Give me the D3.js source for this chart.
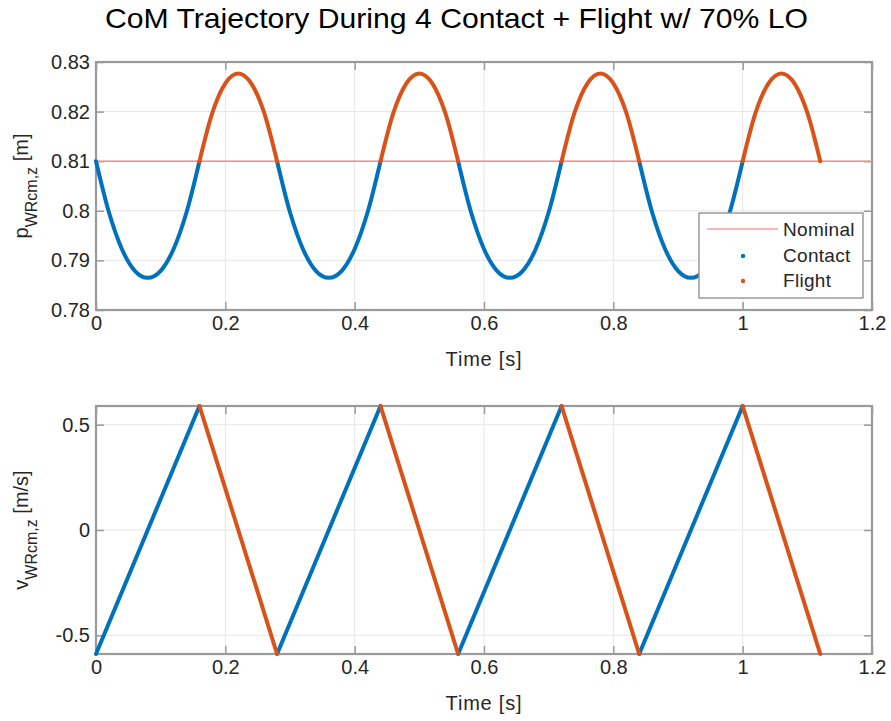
<!DOCTYPE html>
<html>
<head>
<meta charset="utf-8">
<script src="https://cdn.jsdelivr.net/npm/d3@7"></script>
<style>
  html, body { margin: 0; padding: 0; background: #fff; }
  svg { display: block; }
  text { font-family: "Liberation Sans", Arial, Helvetica, sans-serif; fill: #262626; }
</style>
</head>
<body>
<svg id="chart" width="891" height="721"></svg>
<script>
// Sample times [s] (every 20 ms)
const timeS = [
  0.00, 0.02, 0.04, 0.06, 0.08, 0.10, 0.12, 0.14, 0.16, 0.18, 0.20, 0.22, 0.24, 0.26,
  0.28, 0.30, 0.32, 0.34, 0.36, 0.38, 0.40, 0.42, 0.44, 0.46, 0.48, 0.50, 0.52, 0.54,
  0.56, 0.58, 0.60, 0.62, 0.64, 0.66, 0.68, 0.70, 0.72, 0.74, 0.76, 0.78, 0.80, 0.82,
  0.84, 0.86, 0.88, 0.90, 0.92, 0.94, 0.96, 0.98, 1.00, 1.02, 1.04, 1.06, 1.08, 1.10,
  1.12
];
// CoM height p_WRcm,z [m]
const comHeight = [
  0.8100, 0.7997, 0.7923, 0.7879, 0.7865, 0.7879, 0.7923, 0.7997, 0.8100, 0.8198, 0.8257, 0.8277, 0.8257, 0.8198,
  0.8100, 0.7997, 0.7923, 0.7879, 0.7865, 0.7879, 0.7923, 0.7997, 0.8100, 0.8198, 0.8257, 0.8277, 0.8257, 0.8198,
  0.8100, 0.7997, 0.7923, 0.7879, 0.7865, 0.7879, 0.7923, 0.7997, 0.8100, 0.8198, 0.8257, 0.8277, 0.8257, 0.8198,
  0.8100, 0.7997, 0.7923, 0.7879, 0.7865, 0.7879, 0.7923, 0.7997, 0.8100, 0.8198, 0.8257, 0.8277, 0.8257, 0.8198,
  0.8100
];
// CoM vertical velocity v_WRcm,z [m/s]
const comVel = [
  -0.5886, -0.4415, -0.2943, -0.1472, 0.0000, 0.1472, 0.2943, 0.4415, 0.5886, 0.3924, 0.1962, 0.0000, -0.1962, -0.3924,
  -0.5886, -0.4415, -0.2943, -0.1472, 0.0000, 0.1472, 0.2943, 0.4415, 0.5886, 0.3924, 0.1962, 0.0000, -0.1962, -0.3924,
  -0.5886, -0.4415, -0.2943, -0.1472, 0.0000, 0.1472, 0.2943, 0.4415, 0.5886, 0.3924, 0.1962, 0.0000, -0.1962, -0.3924,
  -0.5886, -0.4415, -0.2943, -0.1472, 0.0000, 0.1472, 0.2943, 0.4415, 0.5886, 0.3924, 0.1962, 0.0000, -0.1962, -0.3924,
  -0.5886
];
// Phase windows [s]
const contactStart = [0.00, 0.28, 0.56, 0.84];
const contactEnd   = [0.16, 0.44, 0.72, 1.00];
const flightStart  = [0.16, 0.44, 0.72, 1.00];
const flightEnd    = [0.28, 0.56, 0.84, 1.12];
const nominalHeight = 0.81;

// Axis ticks
const timeTicks = [0, 0.2, 0.4, 0.6, 0.8, 1, 1.2];
const heightTicks = [0.78, 0.79, 0.80, 0.81, 0.82, 0.83];
const velTicks = [-0.5, 0, 0.5];
const timeDomain = [0, 1.2];
const heightDomain = [0.78, 0.83];
const velDomain = [-0.5886, 0.5886];

const titleText = "CoM Trajectory During 4 Contact + Flight w/ 70% LO";
const legendLabels = ["Nominal", "Contact", "Flight"];

const COLORS = { contact: "#0072BD", flight: "#D95319", nominal: "#f78a8a", box: "#9a9a9a", grid: "#e6e6e6" };

const svg = d3.select("#chart");
const left = 96, right = 872;

const fmt = d => String(+(+d).toFixed(3));

// condensed title
svg.append("text")
  .attr("x", (105 + 808) / 2).attr("y", 28)
  .attr("text-anchor", "middle")
  .style("font-family", '"Liberation Sans Narrow", "Liberation Sans", Arial, sans-serif')
  .style("font-size", "28px")
  .attr("textLength", 703).attr("lengthAdjust", "spacingAndGlyphs")
  .style("fill", "#000")
  .text(titleText);

function segments(start, end, values) {
  return start.map((s, k) => timeS
    .map((t, i) => ({ t, v: values[i] }))
    .filter(d => d.t >= s - 1e-9 && d.t <= end[k] + 1e-9));
}

function panel(cfg) {
  const x = d3.scaleLinear().domain(timeDomain).range([left, right]);
  const y = d3.scaleLinear().domain(cfg.domain).range([cfg.bottom, cfg.top]);
  const g = svg.append("g");

  // grid
  g.selectAll(".gx").data(timeTicks).join("line")
    .attr("x1", d => x(d)).attr("x2", d => x(d)).attr("y1", cfg.top).attr("y2", cfg.bottom)
    .attr("stroke", COLORS.grid).attr("stroke-width", 1);
  g.selectAll(".gy").data(cfg.ticks).join("line")
    .attr("x1", left).attr("x2", right).attr("y1", d => y(d)).attr("y2", d => y(d))
    .attr("stroke", COLORS.grid).attr("stroke-width", 1);

  // axes with inward ticks, mirrored on top/right
  const styleAxis = sel => {
    sel.select(".domain").remove();
    sel.selectAll(".tick line").attr("stroke", COLORS.box).attr("stroke-width", 1.5);
    sel.selectAll(".tick text").style("font-size", "20px").style("font-family", '"Liberation Sans", Arial, sans-serif').attr("fill", "#2b2b2b");
  };
  g.append("g").attr("transform", `translate(0,${cfg.bottom})`)
    .call(d3.axisBottom(x).tickValues(timeTicks).tickFormat(fmt).tickSize(-8).tickPadding(6))
    .call(styleAxis);
  g.append("g").attr("transform", `translate(0,${cfg.top})`)
    .call(d3.axisTop(x).tickValues(timeTicks).tickFormat("").tickSize(-8))
    .call(styleAxis);
  g.append("g").attr("transform", `translate(${left},0)`)
    .call(d3.axisLeft(y).tickValues(cfg.ticks).tickFormat(fmt).tickSize(-8).tickPadding(6))
    .call(styleAxis);
  g.append("g").attr("transform", `translate(${right},0)`)
    .call(d3.axisRight(y).tickValues(cfg.ticks).tickFormat("").tickSize(-8))
    .call(styleAxis);

  g.append("rect").attr("x", left).attr("y", cfg.top)
    .attr("width", right - left).attr("height", cfg.bottom - cfg.top)
    .attr("fill", "none").attr("stroke", COLORS.box).attr("stroke-width", 2.2);

  if (cfg.nominal !== undefined) {
    g.append("line").attr("x1", left).attr("x2", right)
      .attr("y1", y(cfg.nominal)).attr("y2", y(cfg.nominal))
      .attr("stroke", COLORS.nominal).attr("stroke-width", 1.4);
  }

  const line = d3.line().x(d => x(d.t)).y(d => y(d.v)).curve(cfg.curve);
  const draw = (segs, color) => g.append("g").selectAll("path").data(segs).join("path")
    .attr("d", line).attr("fill", "none").attr("stroke", color)
    .attr("stroke-width", 4).attr("stroke-linecap", "round").attr("stroke-linejoin", "round");
  draw(segments(contactStart, contactEnd, cfg.values), COLORS.contact);
  draw(segments(flightStart, flightEnd, cfg.values), COLORS.flight);

  // axis labels
  g.append("text").attr("x", (left + right) / 2).attr("y", cfg.bottom + 56)
    .attr("text-anchor", "middle").style("font-size", "20px").style("letter-spacing", "0.8px")
    .text("Time [s]");

  const yl = g.append("text")
    .attr("transform", `translate(28,${(cfg.top + cfg.bottom) / 2}) rotate(-90)`)
    .attr("text-anchor", "middle").style("font-size", "20px");
  yl.append("tspan").text(cfg.sym);
  yl.append("tspan").attr("dy", 9).style("font-size", "16px").text("WRcm,z");
  yl.append("tspan").attr("dy", -9).text(" " + cfg.unit);

  return { x, y, g };
}

panel({ top: 62, bottom: 310, domain: heightDomain, ticks: heightTicks, values: comHeight,
        nominal: nominalHeight, curve: d3.curveCardinal.tension(0), sym: "p", unit: "[m]" });
panel({ top: 406, bottom: 654, domain: velDomain, ticks: velTicks, values: comVel,
        curve: d3.curveLinear, sym: "v", unit: "[m/s]" });

// legend
const lg = svg.append("g").attr("transform", "translate(699,213)");
lg.append("rect").attr("width", 164).attr("height", 85)
  .attr("fill", "#fff").attr("stroke", COLORS.box).attr("stroke-width", 1.5);
lg.append("line").attr("x1", 8).attr("x2", 79).attr("y1", 16).attr("y2", 16)
  .attr("stroke", "#ffb3b3").attr("stroke-width", 2);
lg.append("circle").attr("cx", 44).attr("cy", 43).attr("r", 2.2).attr("fill", COLORS.contact);
lg.append("circle").attr("cx", 44).attr("cy", 68).attr("r", 2.2).attr("fill", COLORS.flight);
lg.selectAll("text.lab").data(legendLabels).join("text")
  .attr("x", 84).attr("y", (d, i) => 23 + i * 25.5)
  .style("font-size", "19px").style("letter-spacing", "0.3px").attr("fill", "#111")
  .text(d => d);
</script>
</body>
</html>
